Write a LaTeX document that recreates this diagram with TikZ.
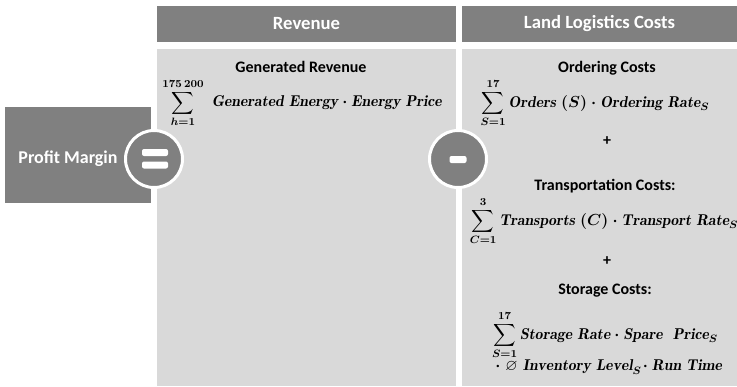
\documentclass[tikz,border=0pt]{standalone}
\usepackage{amsmath,amssymb}
\usepackage{fontspec}
\setsansfont{Carlito}
\usetikzlibrary{positioning}

\definecolor{darkgrey}{HTML}{808080}
\definecolor{lightgrey}{HTML}{D9D9D9}

\begin{document}
\begin{tikzpicture}[x=0.75pt,y=-0.75pt,
    headbox/.style={fill=darkgrey,text=white,inner sep=0pt,minimum height=27pt,
      font=\sffamily\bfseries\fontsize{14}{16}\selectfont},
    panelbox/.style={fill=lightgrey,anchor=north west,inner sep=0pt,minimum height=252.75pt},
    title/.style={font=\sffamily\bfseries\fontsize{12}{14}\selectfont,inner sep=0pt},
    formula/.style={font=\fontsize{11.75}{13}\selectfont\boldmath,inner sep=0pt},
    opcircle/.style={circle,fill=darkgrey,draw=white,line width=2.25pt,minimum size=42.75pt,inner sep=0pt},
    opbar/.style={fill=white,rounded corners=1.5pt,inner sep=0pt,minimum height=5.25pt}]
    \useasboundingbox (0,0) rectangle (737,386);
    % column heads and panels
    \node[headbox,minimum width=224.25pt] (revhead) at (306.5,24) {Revenue};
    \node[headbox,minimum width=206.25pt] (costhead) at (599.5,24) {Land Logistics Costs};
    \node[panelbox,minimum width=224.25pt] (revpanel) at (157,49) {};
    \node[panelbox,minimum width=206.25pt] (costpanel) at (462,49) {};
    % profit margin
    \node[fill=darkgrey,anchor=north west,inner sep=0pt,minimum width=109.5pt,minimum height=72pt] (profit) at (5,107) {};
    \node[text=white,font=\sffamily\bfseries\fontsize{13.5}{15}\selectfont] (profittext) at (68,159) {Profit Margin};
    % operators
    \node[opcircle] (equals) at (154,159) {};
    \node[opbar,minimum width=19.5pt] (eqtop) at (155,152.5) {};
    \node[opbar,minimum width=19.5pt] (eqbot) at (155,165) {};
    \node[opcircle] (minus) at (458,159) {};
    \node[opbar,minimum width=12.75pt] (minbar) at (458,159.5) {};
    % revenue
    \node[title] (gentitle) at (301,67) {Generated Revenue};
    \node[formula] (genform) at (302,103)
      {$\displaystyle\sum_{h=1}^{175\,200}\ \mathit{Generated\ Energy}\cdot\mathit{Energy\ Price}$};
    % costs
    \node[title] (ordtitle) at (607,68) {Ordering Costs};
    \node[formula] (ordform) at (595,103)
      {$\displaystyle\sum_{S=1}^{17}\mathit{Orders}\ (S)\cdot\mathit{Ordering\ Rate}_{S}$};
    \node[title] (plusone) at (607,141) {+};
    \node[title] (trtitle) at (605,186) {Transportation\ Costs:};
    \node[formula] (trform) at (604,221)
      {$\displaystyle\sum_{C=1}^{3}\mathit{Transports}\ (C)\cdot\mathit{Transport\ Rate}_{S}$};
    \node[title] (plustwo) at (607,261) {+};
    \node[title] (sttitle) at (605,291) {Storage Costs:};
    \node[formula] (stform) at (605,335)
      {$\displaystyle\sum_{S=1}^{17}\mathit{Storage\ Rate}\cdot\mathit{Spare\ \ Price}_{S}$};
    \node[formula,anchor=west] (stline) at (495,367)
      {$\cdot\ \varnothing\ \mathit{Inventory\ Level}_{S}\!\cdot\mathit{Run\ Time}$};
\end{tikzpicture}
\end{document}
